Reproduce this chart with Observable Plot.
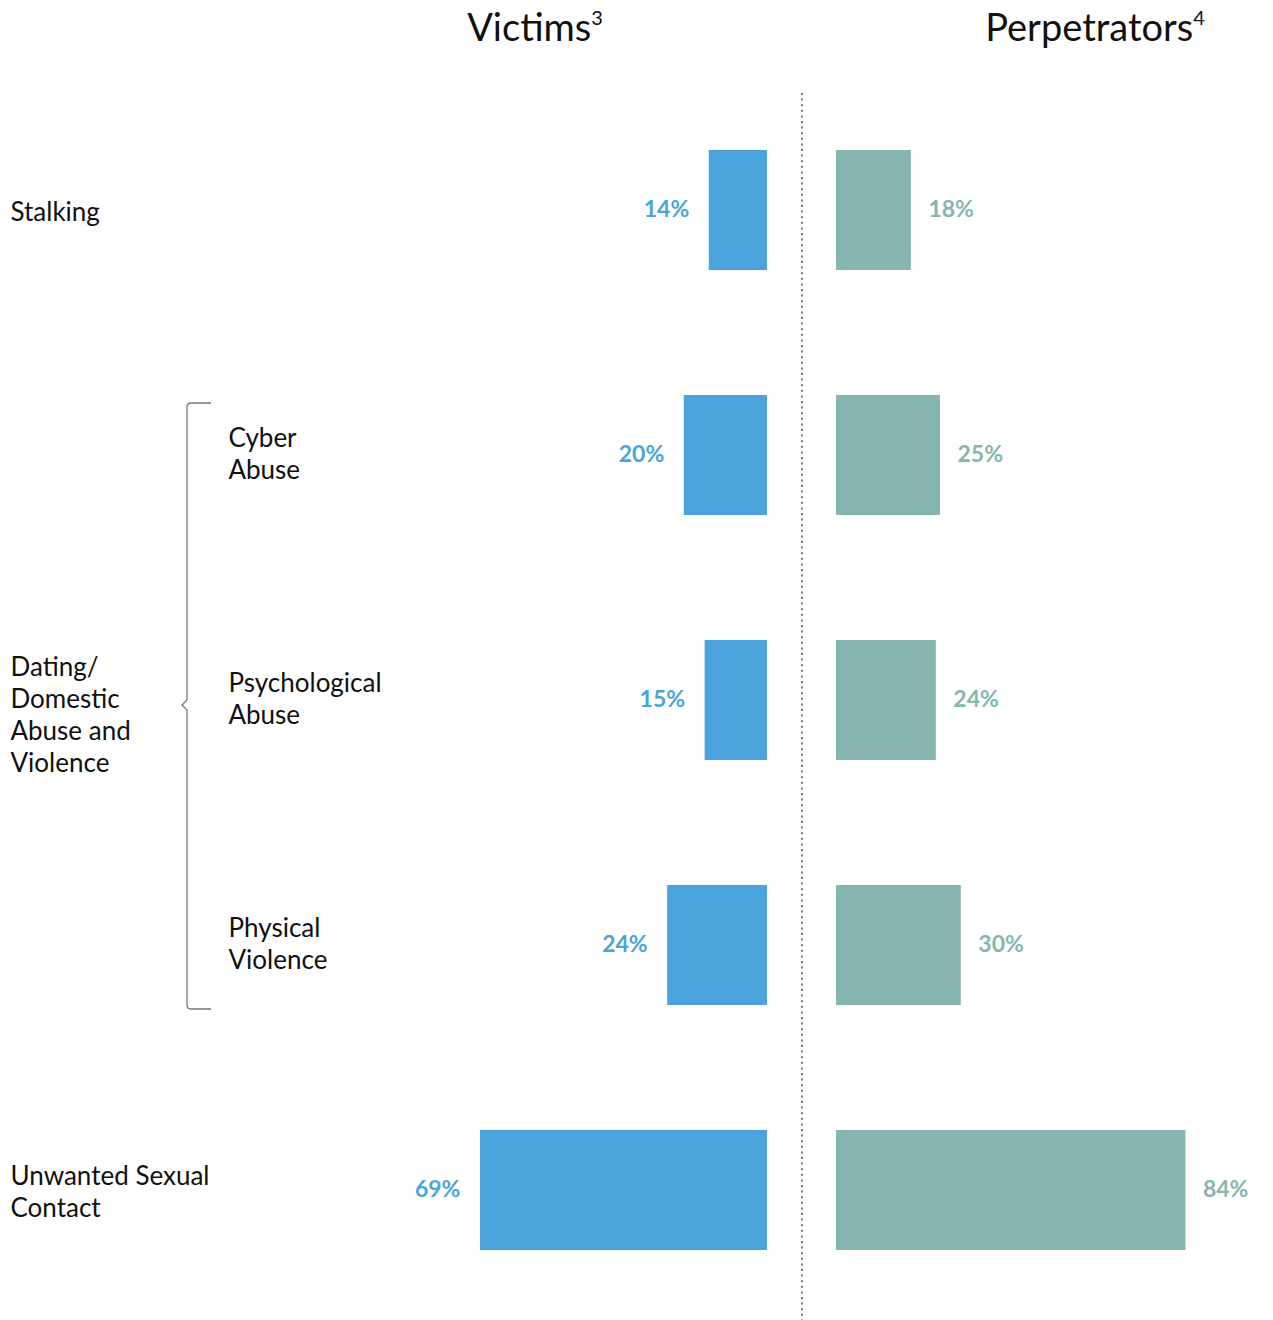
<!DOCTYPE html>
<html>
<head>
<meta charset="utf-8">
<script src="https://cdn.jsdelivr.net/npm/d3@7"></script>
<script src="https://cdn.jsdelivr.net/npm/@observablehq/plot@0.6"></script>
<style>
  body { margin: 0; background: #fff; font-family: Lato, "Noto Sans", sans-serif; }
  #wrap { width: 1273px; position: relative; }
  #titles { position: relative; width: 1273px; height: 60px; }
  #titles span { position: absolute; top: 4px; transform: translateX(-50%); font-size: 38px; line-height: 44px; color: #111; white-space: nowrap; }
  #titles sup { font-size: 20px; vertical-align: 0; position: relative; top: -16px; }
  svg { display: block; }
</style>
</head>
<body>
<div id="wrap">
  <div id="titles">
    <span style="left:535px">Victims<sup>3</sup></span>
    <span style="left:1095px">Perpetrators<sup>4</sup></span>
  </div>
  <div id="chart"></div>
</div>
<script>
// ---- data ----
const categories = ["Stalking", "Cyber Abuse", "Psychological Abuse", "Physical Violence", "Unwanted Sexual Contact"];
const victims = [14, 20, 15, 24, 69];
const perpetrators = [18, 25, 24, 30, 84];
const mainLabels = ["Stalking", "", "", "", "Unwanted Sexual\nContact"];
const subLabels = ["", "Cyber\nAbuse", "Psychological\nAbuse", "Physical\nViolence", ""];
const groupLabel = "Dating/\nDomestic\nAbuse and\nViolence";
const groupRows = ["Cyber Abuse", "Psychological Abuse", "Physical Violence"];

// ---- styling / layout ----
const blue = "#4CA4DC";
const teal = "#87B6B0";
const W = 1273, H = 1260;
const pxPerPct = 4.16;
const centerPx = 801.5;
const gap = 34.5 / pxPerPct; // half gap between the two bar groups, in % units

const victimRows = categories.map((c, i) => ({cat: c, v: victims[i], label: victims[i] + "%"}));
const perpRows = categories.map((c, i) => ({cat: c, v: perpetrators[i], label: perpetrators[i] + "%"}));
const labelRows = categories.map((c, i) => ({cat: c, main: mainLabels[i], sub: subLabels[i]}));

const font = "Lato, 'Noto Sans', sans-serif";

const plot = Plot.plot({
  width: W,
  height: H,
  marginTop: 33,
  marginBottom: 0,
  marginLeft: 0,
  marginRight: 0,
  style: {fontFamily: font, background: "#fff"},
  x: {domain: [-centerPx / pxPerPct, (W - centerPx) / pxPerPct], range: [0, W], axis: null},
  y: {type: "band", domain: categories, range: [88, 1192], paddingInner: 0.512, paddingOuter: 0, axis: null},
  marks: [
    Plot.ruleX([0], {stroke: "#7a7a7a", strokeWidth: 2, strokeDasharray: "2 3.6"}),
    Plot.barX(victimRows, {y: "cat", x1: d => -gap - d.v, x2: -gap, fill: blue}),
    Plot.barX(perpRows, {y: "cat", x1: gap, x2: d => gap + d.v, fill: teal}),
    Plot.text(victimRows, {y: "cat", x: d => -gap - d.v, text: "label", textAnchor: "end", dx: -20, dy: -1,
      fill: blue, fontSize: 23, fontWeight: "bold"}),
    Plot.text(perpRows, {y: "cat", x: d => gap + d.v, text: "label", textAnchor: "start", dx: 17, dy: -1,
      fill: teal, fontSize: 23, fontWeight: "bold"}),
    Plot.text(labelRows.filter(d => d.main), {y: "cat", text: "main", frameAnchor: "left", textAnchor: "start",
      dx: 10, dy: 0, fill: "#111", fontSize: 26, lineHeight: 1.23}),
    Plot.text(labelRows.filter(d => d.sub), {y: "cat", text: "sub", frameAnchor: "left", textAnchor: "start",
      dx: 228, dy: -3, fill: "#111", fontSize: 26, lineHeight: 1.23}),
    Plot.text([groupLabel], {y: [groupRows[1]], text: d => d, frameAnchor: "left", textAnchor: "start",
      dx: 10, dy: 13, fill: "#111", fontSize: 26, lineHeight: 1.23})
  ]
});

document.getElementById("chart").appendChild(plot);

// bracket grouping the dating/domestic rows, positioned from the y scale
const ys = plot.scale("y");
const bTop = ys.apply(groupRows[0]) + 8;
const bBottom = ys.apply(groupRows[groupRows.length - 1]) + ys.bandwidth + 4;
const bMid = ys.apply(groupRows[1]) + ys.bandwidth / 2 + 5;
const bx = 187, tick = 24, r = 4;
const path = `M${bx + tick},${bTop} H${bx + r} Q${bx},${bTop} ${bx},${bTop + r} V${bMid - 5} L${bx - 5},${bMid} L${bx},${bMid + 5} V${bBottom - r} Q${bx},${bBottom} ${bx + r},${bBottom} H${bx + tick}`;
d3.select(plot).append("path")
  .attr("d", path)
  .attr("fill", "none")
  .attr("stroke", "#777")
  .attr("stroke-width", 1.3);
</script>
</body>
</html>
